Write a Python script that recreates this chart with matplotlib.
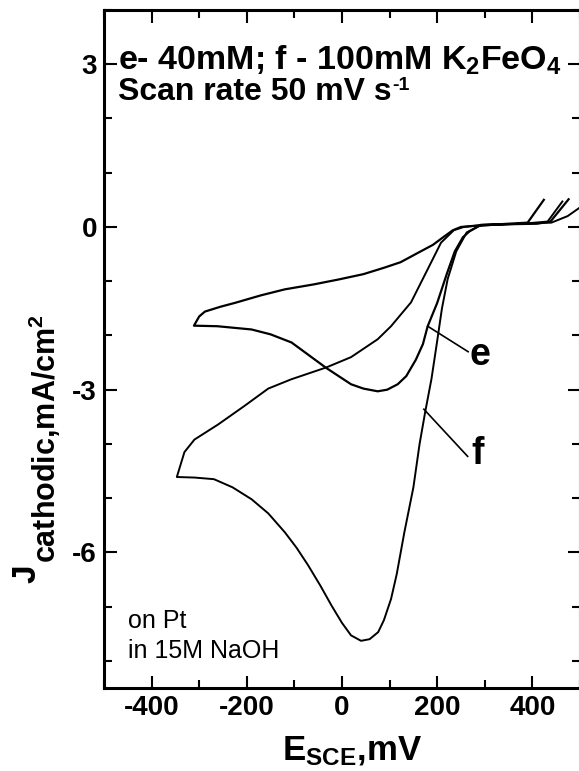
import matplotlib
matplotlib.use("Agg")
from matplotlib import pyplot as plt

plt.rcParams['font.family'] = ['Liberation Sans', 'DejaVu Sans']
plt.rcParams['mathtext.fontset'] = 'custom'
plt.rcParams['mathtext.rm'] = 'Liberation Sans'
plt.rcParams['mathtext.bf'] = 'Liberation Sans:bold'
plt.rcParams['mathtext.it'] = 'Liberation Sans:italic'

# curve e - 40 mM K2FeO4 (scan order)
e_x = [424, 390, 330, 292, 268, 254, 237, 220, 200, 180, 170, 155, 135, 117, 95, 75, 45, 19,
       -33, -106, -150, -190, -262, -311,
       -300, -288, -255, -225, -170, -120, -60, -8, 45, 89, 123, 159, 191, 214, 233, 250,
       290, 350, 410, 438, 476]
e_y = [0.50, 0.08, 0.05, 0.04, -0.08, -0.19, -0.45, -0.87, -1.4, -1.83, -2.16, -2.45, -2.75, -2.9, -3.0, -3.03, -2.98, -2.9,
       -2.6, -2.13, -1.98, -1.89, -1.83, -1.82,
       -1.65, -1.56, -1.47, -1.4, -1.26, -1.15, -1.06, -0.97, -0.87, -0.75, -0.65, -0.48, -0.33, -0.18, -0.06, 0.0,
       0.03, 0.05, 0.06, 0.10, 0.51]

# curve f - 100 mM K2FeO4 (scan order)
f_x = [463, 432, 380, 320, 289, 262, 240, 222, 210, 200, 188, 175, 163, 150, 131, 115, 103, 88, 76, 58, 40, 19, 0,
       -22, -45, -71, -95, -120, -155, -190, -230, -269, -310, -347,
       -331, -310, -260, -205, -155, -107, -33, 19, 75, 103, 145, 180, 208, 235, 256,
       300, 380, 440, 474, 500]
f_y = [0.47, 0.10, 0.06, 0.04, 0.02, -0.1, -0.45, -0.96, -1.5, -2.1, -2.8, -3.4, -4.0, -4.8, -5.63, -6.4, -6.86, -7.25, -7.47, -7.6, -7.63, -7.53, -7.3,
       -6.98, -6.62, -6.24, -5.92, -5.63, -5.28, -5.02, -4.8, -4.65, -4.62, -4.61,
       -4.15, -3.92, -3.64, -3.3, -2.98, -2.81, -2.59, -2.4, -2.07, -1.83, -1.39, -0.78, -0.29, -0.06, 0.0,
       0.04, 0.06, 0.08, 0.20, 0.36]

W, H = 579, 771
fig = plt.figure(figsize=(W/100, H/100), dpi=100)
ax = fig.add_axes([104/W, 1 - 688/H, 476/W, 678/H])

ax.plot(e_x, e_y, color='black', lw=1.6)
ax.plot(f_x, f_y, color='black', lw=1.4)

ax.set_xlim(-500, 500)
ax.set_ylim(-8.5, 4)
ax.set_xticks([-400, -200, 0, 200, 400])
ax.set_xticks(range(-500, 501, 100), minor=True)
ax.set_yticks([-6, -3, 0, 3])
ax.set_yticks(range(-8, 5), minor=True)
ax.set_xticklabels(['-400', '-200', '0', '200', '400'])
ax.set_yticklabels(['-6', '-3', '0', '3'])

ax.tick_params(which='both', direction='in', top=True, right=True, width=1.5, labelsize=20, pad=5)
ax.tick_params(which='major', length=9)
ax.tick_params(which='minor', length=6)
for lab in ax.get_xticklabels() + ax.get_yticklabels():
    lab.set_fontweight('bold')
for sp in ax.spines.values():
    sp.set_linewidth(2.2)

# x axis label placed by baseline
fig.text(352/W, 1 - 760/H, r'$\mathbf{E_{SCE}}$,mV', fontsize=25, fontweight='bold',
         ha='center', va='baseline')

# y axis label: big J, then the rest on a lowered baseline
tj = fig.text(35/W, 1 - 583/H, 'J', fontsize=24, fontweight='bold', rotation=90,
              rotation_mode='anchor', ha='left', va='baseline')
fig.canvas.draw()
jb = tj.get_window_extent()
fig.text(56/W, (jb.y1 + 1)/H, r'cathodic,mA/cm$^\mathbf{2}$', fontsize=22, fontweight='bold',
         rotation=90, rotation_mode='anchor', ha='left', va='baseline')

# header text
fig.text(118/W, 1 - 70/H, r'e- 40mM; f - 100mM K$_\mathbf{2}$FeO$_\mathbf{4}$', fontsize=24.5,
         fontweight='bold', ha='left', va='baseline')
t2 = fig.text(118/W, 1 - 100/H, 'Scan rate 50 mV s', fontsize=23, fontweight='bold',
              ha='left', va='baseline')
fig.canvas.draw()
bb = t2.get_window_extent()
fig.text((bb.x1 + 1)/W, 1 - 90/H, '-1', fontsize=14, fontweight='bold', ha='left', va='baseline')

fig.text(128/W, 1 - 628/H, 'on Pt', fontsize=18, ha='left', va='baseline')
fig.text(128/W, 1 - 658/H, 'in 15M NaOH', fontsize=18, ha='left', va='baseline')

# curve labels with pointer lines
ax.plot([180, 265], [-1.83, -2.3], color='black', lw=1.2)
ax.text(268, -2.36, 'e', fontsize=27, fontweight='bold', va='center', ha='left')
ax.plot([172, 264], [-3.36, -4.23], color='black', lw=1.2)
ax.text(272, -4.18, 'f', fontsize=27, fontweight='bold', va='center', ha='left')

plt.savefig('out.png', dpi=100)
